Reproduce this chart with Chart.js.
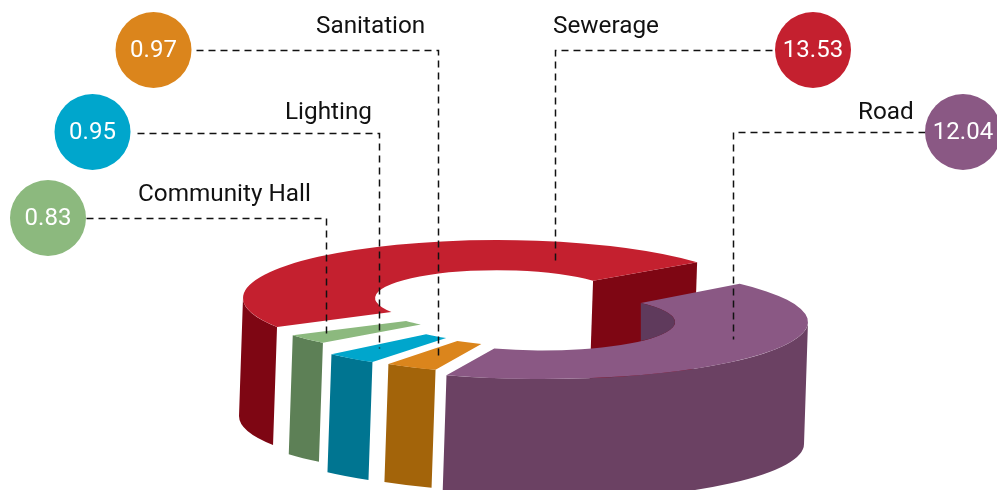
<!DOCTYPE html>
<html>
<head>
<meta charset="utf-8">
<title>Chart</title>
<script src="https://cdn.jsdelivr.net/npm/chart.js@4/dist/chart.umd.min.js"></script>
<style>
  html, body { margin: 0; padding: 0; background: #fff; }
  canvas { display: block; }
</style>
</head>
<body>
<canvas id="ringChart" width="997" height="490"></canvas>
<script>
const categories = ["Sewerage", "Road", "Sanitation", "Lighting", "Community Hall"];
const seriesValues = [13.53, 12.04, 0.97, 0.95, 0.83];

const topColors = ["#c4202f", "#8a5884", "#db851c", "#00a6cc", "#8cb97e"];
const wallColors = ["#7e0613", "#6b4163", "#a3640a", "#007591", "#5d8056"];
const holeWallColors = ["#7e0613", "#5f3a5c", "#a3640a", "#007591", "#5d8056"];

/* where each exploded slice sits on the page */
const sliceLayout = [
  { cx: 497, cy: 298, rx: 254, ry: 58, hole: 0.48, turn: -3, depth: 118 },
  { cx: 542, cy: 322, rx: 266, ry: 57, hole: 0.5, turn: -7, depth: 122 },
  { cx: 529, cy: 317, rx: 249, ry: 57, hole: 0.51, turn: -6, depth: 118 },
  { cx: 517, cy: 315, rx: 256, ry: 57, hole: 0.49, turn: -6, depth: 118 },
  { cx: 515, cy: 307, rx: 265, ry: 52, hole: 0.49, turn: -6, depth: 119 }
];

/* bubble, label and leader line of each callout */
const calloutLayout = [
  { bx: 813, by: 50, lx: 553, ly: 33, path: [[772, 50], [555, 50], [555, 260]] },
  { bx: 963, by: 132, lx: 858, ly: 119, path: [[925, 132], [733, 132], [733, 339]] },
  { bx: 153.5, by: 50, lx: 316, ly: 33, path: [[196, 50], [438, 50], [438, 357]] },
  { bx: 92.5, by: 132, lx: 285, ly: 119, path: [[137, 133], [379, 133], [379, 348]] },
  { bx: 48, by: 218, lx: 138, ly: 201, path: [[86, 218], [326, 218], [326, 337]] }
];

const wallDrift = -4;
const TWO_PI = Math.PI * 2;

function drawSlice(ctx, chart, arc, i) {
  const s = sliceLayout[i];
  const turn = s.turn * Math.PI / 180;
  const innerX = s.rx * s.hole;
  const innerY = s.ry * s.hole;

  let t0 = (arc.startAngle + turn) % TWO_PI;
  if (t0 < 0) t0 += TWO_PI;
  if (t0 > Math.PI) t0 -= TWO_PI;
  const t1 = t0 + (arc.endAngle - arc.startAngle);

  /* cut face at the far end of the slice */
  if (Math.sin(t1) < 0 && Math.cos(t1) > 0) {
    ctx.fillStyle = wallColors[i];
    ctx.beginPath();
    ctx.moveTo(s.cx + innerX * Math.cos(t1), s.cy + innerY * Math.sin(t1));
    ctx.lineTo(s.cx + s.rx * Math.cos(t1), s.cy + s.ry * Math.sin(t1));
    ctx.lineTo(s.cx + s.rx * Math.cos(t1) + wallDrift, s.cy + s.ry * Math.sin(t1) + s.depth);
    ctx.lineTo(s.cx + innerX * Math.cos(t1) + wallDrift, s.cy + innerY * Math.sin(t1) + s.depth);
    ctx.closePath();
    ctx.fill();
  }

  /* outer wall, front half only */
  const lo = Math.max(t0, 0);
  const hi = Math.min(t1, Math.PI);
  if (hi > lo) {
    ctx.fillStyle = wallColors[i];
    ctx.beginPath();
    ctx.ellipse(s.cx, s.cy, s.rx, s.ry, 0, lo, hi);
    ctx.ellipse(s.cx + wallDrift, s.cy + s.depth, s.rx, s.ry, 0, hi, lo, true);
    ctx.closePath();
    ctx.fill();
  }

  /* top face, drawn by the arc element itself */
  const R = arc.outerRadius;
  const savedInner = arc.innerRadius;
  arc.innerRadius = R * s.hole;
  ctx.save();
  ctx.translate(s.cx, s.cy);
  ctx.scale(s.rx / R, s.ry / R);
  ctx.rotate(turn);
  ctx.translate(-arc.x, -arc.y);
  arc.draw(ctx, chart.chartArea);
  ctx.restore();
  arc.innerRadius = savedInner;

  /* bit of the inner wall seen through the hole */
  if (t0 < 0 && t1 > -t0) {
    ctx.fillStyle = holeWallColors[i];
    ctx.beginPath();
    ctx.ellipse(s.cx, s.cy, innerX, innerY, 0, t0, -t0);
    ctx.closePath();
    ctx.fill();
  }
}

const ring3d = {
  id: "ring3d",
  beforeDatasetsDraw(chart) {
    const ctx = chart.ctx;
    chart.getDatasetMeta(0).data.forEach((arc, i) => {
      drawSlice(ctx, chart, arc, i);
    });
    return false;
  },
  afterDraw(chart) {
    const ctx = chart.ctx;
    ctx.save();

    /* LEADER LINES */
    ctx.strokeStyle = "#111";
    ctx.lineWidth = 1.5;
    ctx.setLineDash([7, 5]);
    calloutLayout.forEach(c => {
      ctx.beginPath();
      c.path.forEach((p, k) => {
        if (k === 0) ctx.moveTo(p[0] + 0.5, p[1] + 0.5);
        else ctx.lineTo(p[0] + 0.5, p[1] + 0.5);
      });
      ctx.stroke();
    });
    ctx.setLineDash([]);

    /* BUBBLES AND LABELS */
    calloutLayout.forEach((c, i) => {
      ctx.fillStyle = topColors[i];
      ctx.beginPath();
      ctx.arc(c.bx, c.by, 38, 0, TWO_PI);
      ctx.fill();

      ctx.font = "400 24px Roboto";
      ctx.fillStyle = "#fff";
      ctx.textAlign = "center";
      ctx.textBaseline = "middle";
      ctx.fillText(seriesValues[i].toFixed(2), c.bx, c.by + 1);

      ctx.font = "400 24.3px Roboto";
      ctx.fillStyle = "#111";
      ctx.textAlign = "left";
      ctx.textBaseline = "alphabetic";
      ctx.fillText(categories[i], c.lx, c.ly);
    });

    ctx.restore();
  }
};

new Chart(document.getElementById("ringChart"), {
  type: "doughnut",
  data: {
    labels: categories,
    datasets: [{
      data: seriesValues,
      backgroundColor: topColors,
      borderWidth: 0
    }]
  },
  options: {
    responsive: false,
    animation: false,
    rotation: 243,
    cutout: "50%",
    plugins: {
      legend: { display: false },
      tooltip: { enabled: false }
    }
  },
  plugins: [ring3d]
});
</script>
</body>
</html>
